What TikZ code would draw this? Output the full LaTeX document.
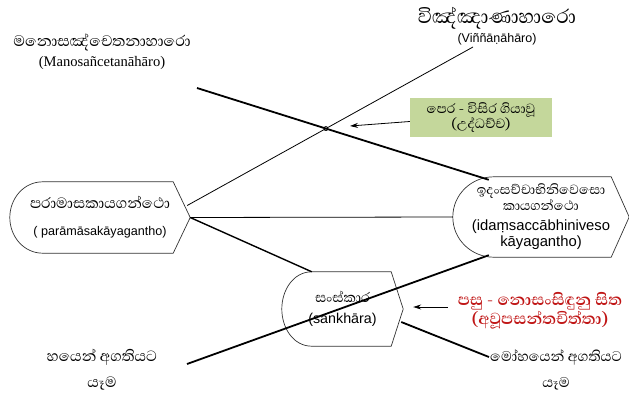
\documentclass[tikz,border=0pt]{standalone}
\usepackage{fontspec}
\setmainfont{Liberation Serif}
\newfontfamily\sinhala[Script=Sinhala]{Abhaya Libre}
\newfontfamily\arial{Liberation Sans}
\usetikzlibrary{calc,arrows.meta}
\definecolor{leafgreen}{RGB}{196,215,155}
\definecolor{wine}{RGB}{192,22,22}
\setlength{\lineskiplimit}{-100pt}

\begin{document}
\begin{tikzpicture}[x=1pt,y=1pt,>={Stealth[length=8pt,width=5pt]},
    thin line/.style={line width=0.8pt},
    thick line/.style={line width=1.8pt},
    gantha/.style 2 args={align=center,inner sep=0pt,
        append after command={\pgfextra{
            \draw[line width=0.7pt,black!80]
                ([xshift=-#2pt]\tikzlastnode.north east)
                -- ([xshift=#1pt]\tikzlastnode.north west)
                to[out=180,in=90] (\tikzlastnode.west)
                to[out=-90,in=180] ([xshift=#1pt]\tikzlastnode.south west)
                -- ([xshift=-#2pt]\tikzlastnode.south east)
                -- (\tikzlastnode.east) -- cycle;}}},
    plain tag/.style={align=center,inner sep=1pt},
    line gap/.style={font=\fontsize{10}{#1}\selectfont}]

    \useasboundingbox (0,0) rectangle (629,-396);

    \node (1) [gantha={33}{17}, minimum width=180pt, minimum height=71pt, line gap=27] at (100,-217.5)
        {{\sinhala\fontsize{19}{27}\selectfont පරාමාසකායගන්ථො}\\{\arial\fontsize{12.6}{27}\selectfont ( parāmāsakāyagantho)}};
    \node (2) [gantha={41}{18}, minimum width=176pt, minimum height=80pt, line gap=16] at (541,-217)
        {{\sinhala\fontsize{17}{16}\selectfont ඉදංසච්චාභිනිවෙසො}\\{\sinhala\fontsize{17}{16}\selectfont කායගන්ථො}\\[4pt]{\arial\fontsize{14.8}{16}\selectfont (idaṃsaccābhiniveso}\\{\arial\fontsize{14.8}{16}\selectfont kāyagantho)}};
    \node (3) [gantha={30}{12}, minimum width=121pt, minimum height=74pt, line gap=21] at (342.5,-309)
        {{\sinhala\fontsize{17.5}{21}\selectfont සංස්කාර}\\{\arial\fontsize{14.3}{21}\selectfont (sankhāra)}};

    \node (4) [plain tag, font=\sinhala\fontsize{19}{26}\selectfont] at (102,-370) {හයෙන් අගතියට\\යෑම};
    \node (5) [plain tag, font=\sinhala\fontsize{18}{26}\selectfont] at (556,-370) {මෝහයෙන් අගතියට\\යෑම};
    \node (6) [plain tag, line gap=20] at (102,-52)
        {{\sinhala\fontsize{19.5}{20}\selectfont මනොසඤ්චෙතනාහාරො}\\{\fontsize{14.6}{20}\selectfont (Manosañcetanāhāro)}};
    \node (7) [plain tag, line gap=19.5] at (497,-26)
        {{\sinhala\fontsize{25}{19.5}\selectfont විඤ්ඤාණාහාරො}\\{\arial\fontsize{12.5}{19.5}\selectfont (Viññāṇāhāro)}};
    \node (8) [fill=leafgreen, minimum width=142pt, minimum height=39pt, inner sep=0pt, align=center,
        font=\sinhala\fontsize{17}{15.5}\selectfont] at (481,-117.5) {පෙර - විසිර ගියාවූ\\(උද්ධච්ච)};
    \node (9) [plain tag, text=wine, font=\sinhala\bfseries\fontsize{20.5}{19.5}\selectfont] at (540,-311)
        {පසු - නොසංසිඳුනු සිත\\(අවූපසන්තචිත්තා)};

    \coordinate (a0) at ([shift={(-3,12)}]1.east);
    \coordinate (a1) at (473,-47);
    \coordinate (b1) at (197,-88);
    \coordinate (b2) at ([shift={(36,-3)}]2.north west);
    \coordinate (d2) at ([xshift=30pt]3.north west);
    \coordinate (e1) at (187,-364);
    \coordinate (e2) at ([shift={(36,2)}]2.south west);
    \coordinate (f1) at ([shift={(-2,-13)}]3.east);
    \coordinate (p1) at (350,-126);
    \coordinate (p2) at ([shift={(10,2)}]3.east);

    \path
        (a0) edge[thin line] (a1)
        (b1) edge[thick line] (b2)
        (1.east) edge[thin line] (2.west)
        (1.east) edge[line width=1.4pt] (d2)
        (e1) edge[thick line] (e2)
        (f1) edge[thick line] ([yshift=13pt]5.west)
        ([yshift=-4pt]8.west) edge[thin line,->] (p1)
        ([shift={(-9,4)}]9.west) edge[thin line,->] (p2)
    ;
    \draw[thin line] (intersection of a0--a1 and b1--b2) circle (2);
\end{tikzpicture}
\end{document}
